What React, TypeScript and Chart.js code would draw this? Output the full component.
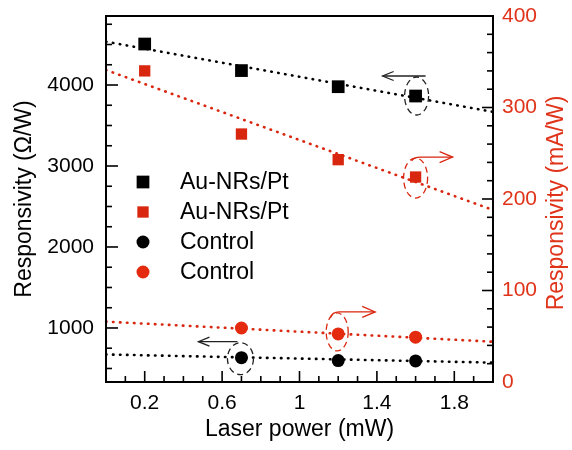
import React, { useEffect, useRef } from 'react';
import { Chart, registerables } from 'chart.js';

Chart.register(...registerables);

// ---- data ----
const laserPower = [0.2, 0.7, 1.2, 1.6];
const auNrsOhm = [4506, 4178, 3979, 3864]; // Ω/W (left axis)
const auNrsMa = [340, 271, 243, 224]; // mA/W (right axis)
const controlPower = [0.7, 1.2, 1.6];
const controlOhm = [633, 598, 593]; // Ω/W (left axis)
const controlMa = [59, 52.5, 49]; // mA/W (right axis)
const fitPower = [0, 2];
const fitAuOhm = [4535, 3668];
const fitAuMa = [341, 188];
const fitCtrlOhm = [673, 572];
const fitCtrlMa = [66, 44];
const xTickLabels = [0.2, 0.6, 1, 1.4, 1.8];
const leftTickLabels = [1000, 2000, 3000, 4000];
const rightTickLabels = [0, 100, 200, 300, 400];
const legendLabels = ['Au-NRs/Pt', 'Au-NRs/Pt', 'Control', 'Control'];
const rightTitle = 'Responsivity (mA/W)';

const RED = '#d9260f';
const RED_TEXT = '#e0341a';
const FONT = '"Liberation Sans", Arial, Helvetica, sans-serif';

const decor = {
  id: 'decor',
  afterDatasetsDraw(chart: any) {
    const { ctx, chartArea: ca, scales } = chart;
    const x = scales.x;
    const yl = scales.y;
    const yr = scales.y2;
    ctx.save();

    // frame
    ctx.strokeStyle = '#000';
    ctx.lineWidth = 2;
    ctx.strokeRect(ca.left, ca.top, ca.right - ca.left, ca.bottom - ca.top);

    // inward ticks
    ctx.lineWidth = 1.6;
    const seg = (x1: number, y1: number, x2: number, y2: number) => {
      ctx.beginPath();
      ctx.moveTo(x1, y1);
      ctx.lineTo(x2, y2);
      ctx.stroke();
    };
    for (let i = 0; i <= 20; i++) {
      const v = i / 10;
      const p = x.getPixelForValue(v);
      const major = xTickLabels.some((t) => Math.abs(t - v) < 1e-6);
      seg(p, ca.bottom, p, ca.bottom - (major ? 11 : 6));
    }
    for (let v = 250; v <= 4852; v += 250) {
      if (v < yl.min) continue;
      const p = yl.getPixelForValue(v);
      const major = v % 1000 === 0;
      seg(ca.left, p, ca.left + (major ? 12 : 6), p);
    }
    for (let v = 20; v < 400; v += 20) {
      const p = yr.getPixelForValue(v);
      const major = v % 100 === 0;
      seg(ca.right, p, ca.right - (major ? 11 : 6), p);
    }

    // right axis title, reading bottom-to-top
    ctx.save();
    ctx.translate(557, (ca.top + ca.bottom) / 2 + 4);
    ctx.rotate(-Math.PI / 2);
    ctx.font = `23px ${FONT}`;
    ctx.fillStyle = RED_TEXT;
    ctx.textAlign = 'center';
    ctx.textBaseline = 'middle';
    ctx.fillText(rightTitle, 0, 0);
    ctx.restore();

    // annotations: dashed ellipses + arrows
    const ellipse = (cx: number, cy: number, rx: number, ry: number, color: string) => {
      ctx.save();
      ctx.strokeStyle = color;
      ctx.lineWidth = 1.3;
      ctx.setLineDash([6, 4]);
      ctx.beginPath();
      ctx.ellipse(cx, cy, rx, ry, 0, 0, Math.PI * 2);
      ctx.stroke();
      ctx.restore();
    };
    const head = (tx: number, ty: number, dir: number, len: number, hw: number, color: string) => {
      ctx.save();
      ctx.strokeStyle = color;
      ctx.lineWidth = 1.3;
      ctx.beginPath();
      ctx.moveTo(tx - dir * len, ty - hw);
      ctx.lineTo(tx, ty);
      ctx.lineTo(tx - dir * len, ty + hw);
      ctx.stroke();
      ctx.restore();
    };
    const straightArrow = (x1: number, x2: number, y: number, color: string) => {
      ctx.save();
      ctx.strokeStyle = color;
      ctx.lineWidth = 1.3;
      ctx.beginPath();
      ctx.moveTo(x1, y);
      ctx.lineTo(x2, y);
      ctx.stroke();
      ctx.restore();
      head(x2, y, Math.sign(x2 - x1), 11, 4.5, color);
    };
    const curvedArrow = (sx: number, sy: number, ex: number, ey: number, color: string) => {
      ctx.save();
      ctx.strokeStyle = color;
      ctx.lineWidth = 1.3;
      ctx.beginPath();
      ctx.moveTo(sx, sy);
      ctx.quadraticCurveTo(sx + 2, ey, sx + 9, ey);
      ctx.lineTo(ex, ey);
      ctx.stroke();
      ctx.restore();
      head(ex, ey, 1, 13, 5.5, color);
    };

    // black square at 1.6 (left axis)
    {
      const px = x.getPixelForValue(laserPower[3]);
      const py = yl.getPixelForValue(auNrsOhm[3]);
      ellipse(px + 1, py, 12, 19, '#222');
      straightArrow(px + 10, px - 33, py - 20, '#222');
    }
    // red square at 1.6 (right axis)
    {
      const px = x.getPixelForValue(laserPower[3]);
      const py = yr.getPixelForValue(auNrsMa[3]);
      ellipse(px, py + 1, 12, 20, RED);
      curvedArrow(px - 4, py - 16, px + 37, py - 20, RED);
    }
    // red circle at 1.2 (right axis)
    {
      const px = x.getPixelForValue(controlPower[1]);
      const py = yr.getPixelForValue(controlMa[1]);
      ellipse(px - 1, py - 2, 11, 19, RED);
      curvedArrow(px - 8, py - 16, px + 37, py - 22, RED);
    }
    // black circle at 0.7 (left axis)
    {
      const px = x.getPixelForValue(controlPower[0]);
      const py = yl.getPixelForValue(controlOhm[0]);
      ellipse(px - 1, py + 1, 13, 16, '#222');
      straightArrow(px - 4, px - 43, py - 16, '#222');
    }

    // legend
    const lx = ca.left + 37;
    const tx = ca.left + 74;
    const ly0 = ca.top + 166;
    ctx.font = `23px ${FONT}`;
    ctx.textBaseline = 'middle';
    ctx.textAlign = 'left';
    legendLabels.forEach((label, i) => {
      const ds = chart.data.datasets[i];
      const y = ly0 + i * 30;
      ctx.fillStyle = ds.backgroundColor;
      if (ds.pointStyle === 'rect') {
        const s = ds.pointRadius * Math.SQRT1_2;
        ctx.fillRect(lx - s, y - s, 2 * s, 2 * s);
      } else {
        ctx.beginPath();
        ctx.arc(lx, y, ds.pointRadius, 0, Math.PI * 2);
        ctx.fill();
      }
      ctx.fillStyle = '#000';
      ctx.fillText(label, tx, y + 1);
    });

    ctx.restore();
  },
};

const noPad = (s: any) => {
  s.paddingTop = 0;
  s.paddingBottom = 0;
  s.paddingLeft = 0;
  s.paddingRight = 0;
};

export default function App() {
  const ref = useRef<HTMLCanvasElement>(null);

  useEffect(() => {
    const canvas = ref.current;
    if (!canvas) return;
    const pts = (xs: number[], ys: number[]) => xs.map((v, i) => ({ x: v, y: ys[i] }));
    const fitLine = (ys: number[], color: string, axis: string) => ({
      label: 'fit',
      data: pts(fitPower, ys),
      yAxisID: axis,
      showLine: true,
      borderColor: color,
      backgroundColor: color,
      borderWidth: 2.6,
      borderDash: [0.5, 6.5],
      borderCapStyle: 'round',
      pointRadius: 0,
      fill: false,
    });
    const chart = new Chart(canvas, {
      type: 'scatter',
      data: {
        datasets: [
          {
            label: legendLabels[0],
            data: pts(laserPower, auNrsOhm),
            yAxisID: 'y',
            pointStyle: 'rect',
            pointRadius: 9,
            backgroundColor: '#000',
            borderColor: '#000',
            borderWidth: 0,
          },
          {
            label: legendLabels[1],
            data: pts(laserPower, auNrsMa),
            yAxisID: 'y2',
            pointStyle: 'rect',
            pointRadius: 8,
            backgroundColor: RED,
            borderColor: RED,
            borderWidth: 0,
          },
          {
            label: legendLabels[2],
            data: pts(controlPower, controlOhm),
            yAxisID: 'y',
            pointStyle: 'circle',
            pointRadius: 6.5,
            backgroundColor: '#000',
            borderColor: '#000',
            borderWidth: 0,
          },
          {
            label: legendLabels[3],
            data: pts(controlPower, controlMa),
            yAxisID: 'y2',
            pointStyle: 'circle',
            pointRadius: 6.5,
            backgroundColor: '#e42b10',
            borderColor: '#e42b10',
            borderWidth: 0,
          },
          fitLine(fitAuOhm, '#000', 'y'),
          fitLine(fitAuMa, RED, 'y2'),
          fitLine(fitCtrlOhm, '#000', 'y'),
          fitLine(fitCtrlMa, RED, 'y2'),
        ] as any,
      },
      options: {
        responsive: false,
        animation: false,
        events: [],
        layout: { padding: { top: 16, left: 0, right: 0, bottom: 0 } },
        plugins: { legend: { display: false }, tooltip: { enabled: false } },
        scales: {
          x: {
            type: 'linear',
            position: 'bottom',
            min: 0,
            max: 2,
            afterBuildTicks: (s: any) => {
              s.ticks = xTickLabels.map((v) => ({ value: v }));
            },
            afterFit: (s: any) => {
              s.height = 68;
              noPad(s);
            },
            grid: { display: false, drawTicks: false },
            border: { display: false },
            ticks: {
              font: { family: FONT, size: 21 },
              color: '#000',
              padding: 9,
              maxRotation: 0,
              autoSkip: false,
              callback: (v: any) => String(v),
            },
            title: {
              display: true,
              text: 'Laser power (mW)',
              font: { family: FONT, size: 23 },
              color: '#000',
              padding: { top: 0, bottom: 7 },
            },
          },
          y: {
            type: 'linear',
            position: 'left',
            min: 333,
            max: 4852,
            afterBuildTicks: (s: any) => {
              s.ticks = leftTickLabels.map((v) => ({ value: v }));
            },
            afterFit: (s: any) => {
              s.width = 106;
              noPad(s);
            },
            grid: { display: false, drawTicks: false },
            border: { display: false },
            ticks: {
              font: { family: FONT, size: 21 },
              color: '#000',
              padding: 12,
              callback: (v: any) => String(v),
            },
            title: {
              display: true,
              text: 'Responsivity (Ω/W)',
              font: { family: FONT, size: 23 },
              color: '#000',
              padding: { top: 11, bottom: 0 },
            },
          },
          y2: {
            type: 'linear',
            position: 'right',
            min: 0,
            max: 400,
            afterBuildTicks: (s: any) => {
              s.ticks = rightTickLabels.map((v) => ({ value: v }));
            },
            afterFit: (s: any) => {
              s.width = 79;
              noPad(s);
            },
            grid: { display: false, drawTicks: false },
            border: { display: false },
            ticks: {
              font: { family: FONT, size: 21 },
              color: RED_TEXT,
              padding: 9,
              callback: (v: any) => String(v),
            },
            title: { display: false },
          },
        },
      } as any,
      plugins: [decor],
    });
    return () => chart.destroy();
  }, []);

  return (
    <div style={{ position: 'absolute', left: 0, top: 0, width: 572, height: 450, background: '#fff' }}>
      <canvas ref={ref} width={572} height={450} style={{ display: 'block', width: 572, height: 450 }} />
    </div>
  );
}
